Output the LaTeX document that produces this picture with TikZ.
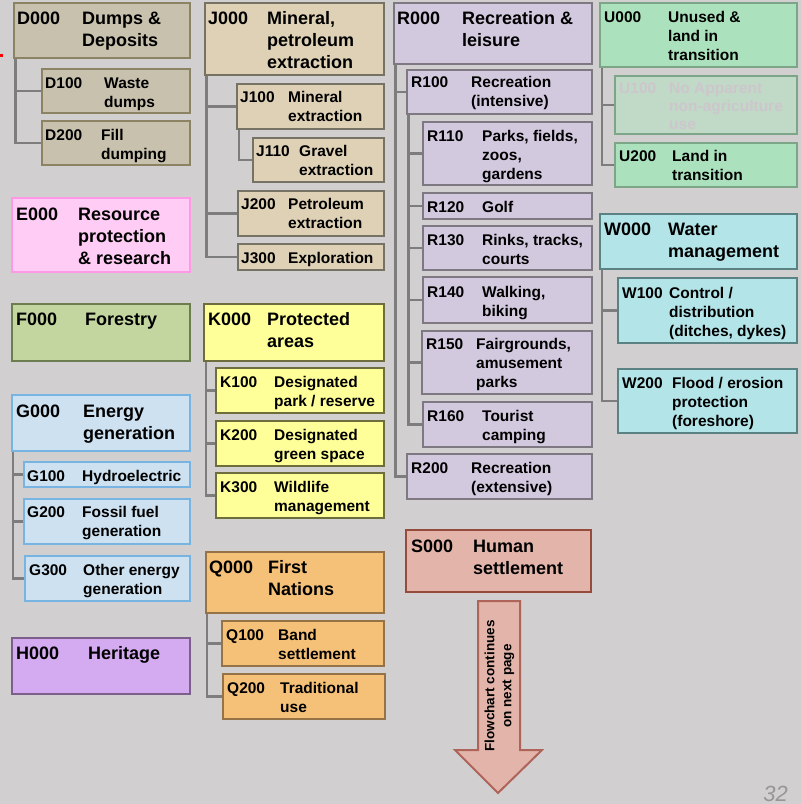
\documentclass[tikz,border=0pt]{standalone}
\usepackage{fontspec}
\setmainfont{Liberation Sans}
\usetikzlibrary{fit}
\pgfdeclarelayer{bglayer}
\pgfsetlayers{bglayer,main}
\definecolor{bgc}{RGB}{209,207,208}
\definecolor{connc}{RGB}{125,125,125}
\definecolor{Dfill}{RGB}{200,193,174}\definecolor{Ddraw}{RGB}{140,131,100}
\definecolor{Jfill}{RGB}{222,209,181}\definecolor{Jdraw}{RGB}{118,114,100}
\definecolor{Efill}{RGB}{255,204,245}\definecolor{Edraw}{RGB}{255,153,230}
\definecolor{Rfill}{RGB}{211,201,223}\definecolor{Rdraw}{RGB}{125,120,130}
\definecolor{Ufill}{RGB}{171,226,189}\definecolor{Udraw}{RGB}{125,165,135}
\definecolor{UAfill}{RGB}{193,217,199}\definecolor{UAtext}{RGB}{205,198,205}
\definecolor{Wfill}{RGB}{178,228,232}\definecolor{Wdraw}{RGB}{90,130,130}
\definecolor{Ffill}{RGB}{196,214,160}\definecolor{Fdraw}{RGB}{110,125,80}
\definecolor{Kfill}{RGB}{255,255,153}\definecolor{Kdraw}{RGB}{110,110,60}
\definecolor{Gfill}{RGB}{205,225,241}\definecolor{Gdraw}{RGB}{120,180,225}
\definecolor{Qfill}{RGB}{245,193,120}\definecolor{Qdraw}{RGB}{150,115,70}
\definecolor{Hfill}{RGB}{212,170,240}\definecolor{Hdraw}{RGB}{125,95,140}
\definecolor{Sfill}{RGB}{227,181,170}\definecolor{Sdraw}{RGB}{150,75,60}
\definecolor{Adraw}{RGB}{175,100,90}
\definecolor{pgnum}{RGB}{150,150,150}
\newcommand\mylines[1]{\begin{tabular}[t]{@{}l@{}}#1\end{tabular}}
% box: name, fill, draw, x1, y1, x2, y2
\newcommand\bb[7]{\node[bx, fill=#2, draw=#3, fit={(#4,#5)(#6,#7)}] (#1) {};}
% text: name, style, codex, descx, baseline, code, desc
\newcommand\bt[7]{\node[#2] (#1c) at (#3,#5) {#6}; \node[#2] (#1t) at (#4,#5) {\mylines{#7}};}
\tikzset{
  bx/.style={line width=2pt, inner sep=0pt, outer sep=0pt},
  big/.style={font=\fontsize{18}{22}\selectfont\bfseries, anchor=base west, inner sep=0pt},
  sml/.style={font=\fontsize{15.5}{19}\selectfont\bfseries, anchor=base west, inner sep=0pt},
  faded/.style={sml, text=UAtext, font=\fontsize{15.5}{18}\selectfont\bfseries},
  conn/.style={draw=connc, line width=2.2pt},
}
\begin{document}
\begin{tikzpicture}[x=1pt, y=-1pt]
\useasboundingbox (0,0) rectangle (801,804);
\begin{pgfonlayer}{bglayer}
\fill[bgc] (0,0) rectangle (801,804);
\end{pgfonlayer}
\fill[red] (0,54) rectangle (2.5,57);

% D
\bb{D000}{Dfill}{Ddraw}{14}{3}{190}{58}
\bb{D100}{Dfill}{Ddraw}{42}{69}{190}{113}
\bb{D200}{Dfill}{Ddraw}{42}{121}{190}{165}
\bt{D000}{big}{17}{82}{24}{D000}{Dumps \&\\Deposits}
\bt{D100}{sml}{45}{104}{88}{D100}{Waste\\dumps}
\bt{D200}{sml}{45}{101}{140}{D200}{Fill\\dumping}
% J
\bb{J000}{Jfill}{Jdraw}{205}{3}{384}{75}
\bb{J100}{Jfill}{Jdraw}{237}{84}{384}{129}
\bb{J110}{Jfill}{Jdraw}{253}{138}{384}{182}
\bb{J200}{Jfill}{Jdraw}{238}{191}{384}{236}
\bb{J300}{Jfill}{Jdraw}{238}{244}{384}{270}
\bt{J000}{big}{208}{267}{24}{J000}{Mineral,\\petroleum\\extraction}
\bt{J100}{sml}{240}{288}{102}{J100}{Mineral\\extraction}
\bt{J110}{sml}{256}{299}{156}{J110}{Gravel\\extraction}
\bt{J200}{sml}{241}{288}{209}{J200}{Petroleum\\extraction}
\bt{J300}{sml}{241}{288}{263}{J300}{Exploration}
% E
\bb{E000}{Efill}{Edraw}{12}{198}{190}{272}
\bt{E000}{big}{16}{78}{220}{E000}{Resource\\protection\\\& research}
% R
\bb{R000}{Rfill}{Rdraw}{394}{3}{592}{64}
\bb{R100}{Rfill}{Rdraw}{407}{70}{592}{114}
\bb{R110}{Rfill}{Rdraw}{423}{122}{592}{185}
\bb{R120}{Rfill}{Rdraw}{423}{193}{592}{219}
\bb{R130}{Rfill}{Rdraw}{423}{226}{592}{270}
\bb{R140}{Rfill}{Rdraw}{423}{277}{592}{323}
\bb{R150}{Rfill}{Rdraw}{422}{331}{592}{394}
\bb{R160}{Rfill}{Rdraw}{423}{402}{592}{447}
\bb{R200}{Rfill}{Rdraw}{407}{454}{592}{499}
\bt{R000}{big}{397}{462}{24}{R000}{Recreation \&\\leisure}
\bt{R100}{sml}{411}{471}{87}{R100}{Recreation\\(intensive)}
\bt{R110}{sml}{427}{482}{141}{R110}{Parks, fields,\\zoos,\\gardens}
\bt{R120}{sml}{427}{482}{212}{R120}{Golf}
\bt{R130}{sml}{427}{482}{245}{R130}{Rinks, tracks,\\courts}
\bt{R140}{sml}{427}{482}{297}{R140}{Walking,\\biking}
\bt{R150}{sml}{426}{476}{349}{R150}{Fairgrounds,\\amusement\\parks}
\bt{R160}{sml}{427}{482}{421}{R160}{Tourist\\camping}
\bt{R200}{sml}{411}{471}{473}{R200}{Recreation\\(extensive)}
% U
\bb{U000}{Ufill}{Udraw}{600}{3}{797}{67}
\bb{U100}{UAfill}{Udraw}{615}{76}{797}{134}
\bb{U200}{Ufill}{Udraw}{615}{143}{797}{187}
\bt{U000}{sml}{604}{668}{22}{U000}{Unused \&\\land in\\transition}
\bt{U100}{faded}{619}{669}{93}{U100}{No Apparent\\non-agriculture\\use}
\bt{U200}{sml}{619}{672}{161}{U200}{Land in\\transition}
% W
\bb{W000}{Wfill}{Wdraw}{600}{214}{797}{269}
\bb{W100}{Wfill}{Wdraw}{618}{278}{797}{343}
\bb{W200}{Wfill}{Wdraw}{618}{369}{797}{433}
\bt{W000}{big}{604}{668}{235}{W000}{Water\\management}
\bt{W100}{sml}{622}{669}{298}{W100}{Control /\\distribution\\(ditches, dykes)}
\bt{W200}{sml}{622}{672}{388}{W200}{Flood / erosion\\protection\\(foreshore)}
% F
\bb{F000}{Ffill}{Fdraw}{12}{304}{190}{361}
\bt{F000}{big}{16}{85}{325}{F000}{Forestry}
% K
\bb{K000}{Kfill}{Kdraw}{204}{304}{384}{361}
\bb{K100}{Kfill}{Kdraw}{216}{368}{384}{413}
\bb{K200}{Kfill}{Kdraw}{216}{421}{384}{466}
\bb{K300}{Kfill}{Kdraw}{216}{473}{384}{518}
\bt{K000}{big}{208}{267}{325}{K000}{Protected\\areas}
\bt{K100}{sml}{220}{274}{387}{K100}{Designated\\park / reserve}
\bt{K200}{sml}{220}{274}{440}{K200}{Designated\\green space}
\bt{K300}{sml}{220}{274}{492}{K300}{Wildlife\\management}
% G
\bb{G000}{Gfill}{Gdraw}{12}{395}{190}{451}
\bb{G100}{Gfill}{Gdraw}{24}{462}{190}{487}
\bb{G200}{Gfill}{Gdraw}{24}{499}{190}{544}
\bb{G300}{Gfill}{Gdraw}{25}{556}{190}{601}
\bt{G000}{big}{16}{83}{417}{G000}{Energy\\generation}
\bt{G100}{sml}{27}{82}{481}{G100}{Hydroelectric}
\bt{G200}{sml}{27}{82}{517}{G200}{Fossil fuel\\generation}
\bt{G300}{sml}{29}{83}{575}{G300}{Other energy\\generation}
% Q
\bb{Q000}{Qfill}{Qdraw}{206}{552}{384}{613}
\bb{Q100}{Qfill}{Qdraw}{222}{621}{384}{666}
\bb{Q200}{Qfill}{Qdraw}{223}{674}{385}{719}
\bt{Q000}{big}{209}{268}{573}{Q000}{First\\Nations}
\bt{Q100}{sml}{226}{278}{640}{Q100}{Band\\settlement}
\bt{Q200}{sml}{227}{280}{693}{Q200}{Traditional\\use}
% H
\bb{H000}{Hfill}{Hdraw}{12}{638}{190}{694}
\bt{H000}{big}{16}{88}{659}{H000}{Heritage}
% S
\bb{S000}{Sfill}{Sdraw}{406}{530}{591}{592}
\bt{S000}{big}{411}{473}{552}{S000}{Human\\settlement}

% connectors
\begin{pgfonlayer}{bglayer}
\draw[conn] ([xshift=1.5pt]D000.south west) |- (D100.west);
\draw[conn] ([xshift=1.5pt]D000.south west) |- (D200.west);
\draw[conn] ([xshift=1.5pt]J000.south west) |- (J100.west);
\draw[conn] ([xshift=1.5pt]J000.south west) |- (J200.west);
\draw[conn] ([xshift=1.5pt]J000.south west) |- (J300.west);
\draw[conn] ([xshift=2pt]J100.south west) |- (J110.west);
\draw[conn] ([xshift=1.5pt]R000.south west) |- (R100.west);
\draw[conn] ([xshift=1.5pt]R000.south west) |- (R200.west);
\foreach \c in {R110,R120,R130,R140,R150,R160}
  \draw[conn] ([xshift=1.5pt]R100.south west) |- (\c.west);
\draw[conn] ([xshift=2pt]U000.south west) |- (U100.west);
\draw[conn] ([xshift=2pt]U000.south west) |- (U200.west);
\draw[conn] ([xshift=2pt]W000.south west) |- (W100.west);
\draw[conn] ([xshift=2pt]W000.south west) |- (W200.west);
\draw[conn] ([xshift=2pt]K000.south west) |- (K100.west);
\draw[conn] ([xshift=2pt]K000.south west) |- (K200.west);
\draw[conn] ([xshift=2pt]K000.south west) |- (K300.west);
\draw[conn] ([xshift=1pt]G000.south west) |- (G100.west);
\draw[conn] ([xshift=1pt]G000.south west) |- (G200.west);
\draw[conn] ([xshift=1pt]G000.south west) |- (G300.west);
\draw[conn] ([xshift=1pt]Q000.south west) |- (Q100.west);
\draw[conn] ([xshift=1pt]Q000.south west) |- (Q200.west);
\end{pgfonlayer}

% continuation arrow
\draw[fill=Sfill, draw=Adraw, line width=2pt, line join=miter]
  (478,601) -- (520,601) -- (520,750) -- (542,750) -- (498,793) -- (455,750) -- (478,750) -- cycle;
\node[rotate=90, align=center, inner sep=0pt, font=\fontsize{13.5}{17}\selectfont\bfseries] (cont) at (499.5,686) {Flowchart continues\\on next page};

% page number
\node[anchor=base east, inner sep=0pt, text=pgnum, font=\fontsize{22}{26}\selectfont\itshape] (pg) at (788,801) {32};
\end{tikzpicture}
\end{document}
